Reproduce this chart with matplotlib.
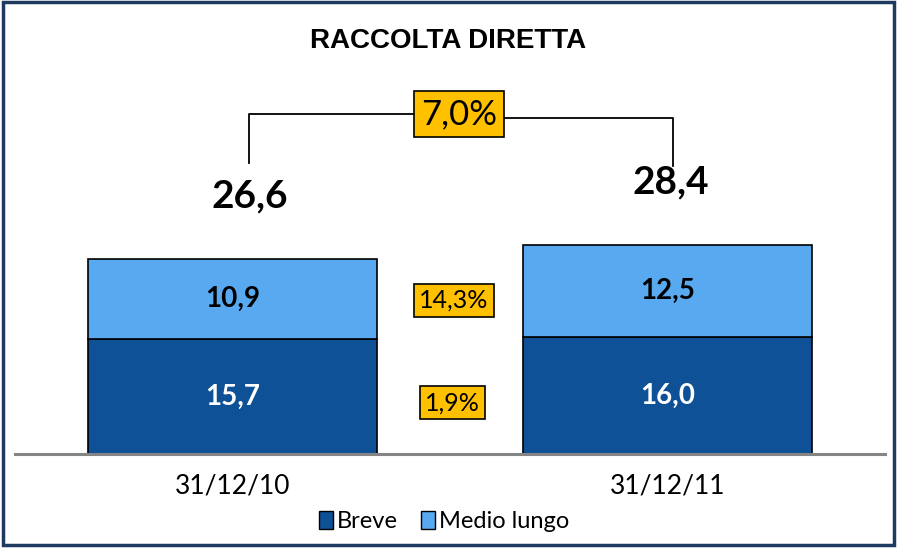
import matplotlib
matplotlib.use("Agg")
import matplotlib.pyplot as plt
from matplotlib.patches import Patch, Rectangle

plt.rcParams['font.family'] = ['Lato', 'DejaVu Sans']

# data
dates = ['31/12/10', '31/12/11']
breve = [15.7, 16.0]
medio_lungo = [10.9, 12.5]
totals = [26.6, 28.4]
breve_lbl = ['15,7', '16,0']
medio_lbl = ['10,9', '12,5']
total_lbl = ['26,6', '28,4']
var_total = '7,0%'
var_medio = '14,3%'
var_breve = '1,9%'

c_breve = '#0E5196'
c_medio = '#58A9F0'
c_gold = '#FFC000'

fig = plt.figure(figsize=(8.97, 5.48), dpi=100)
ax = fig.add_axes([15 / 897, 94 / 548, 870 / 897, 402.6 / 548])

x = [0, 1]
w = 0.665
ax.bar(x, breve, w, color=c_breve, edgecolor='black', linewidth=1.2)
ax.bar(x, medio_lungo, w, bottom=breve, color=c_medio, edgecolor='black', linewidth=1.2)

tot_dx = [0.04, 0.008]
for i in range(2):
    ax.text(x[i], breve[i] / 2, breve_lbl[i], ha='center', va='center',
            color='white', fontsize=20, fontweight='bold')
    ax.text(x[i], breve[i] + medio_lungo[i] / 2, medio_lbl[i], ha='center', va='center',
            color='black', fontsize=20, fontweight='bold')
    ax.text(x[i] + tot_dx[i], totals[i] + 8.7, total_lbl[i], ha='center', va='center',
            color='black', fontsize=28, fontweight='bold')

# bracket between totals
lx, rx, bx = 0.038, 1.013, 0.521
ax.plot([lx, lx, 0.42], [39.8, 46.4, 46.4], color='black', lw=1.3)
ax.plot([0.62, rx, rx], [45.9, 45.9, 39.3], color='black', lw=1.3)
box = dict(boxstyle='square,pad=0.2', fc=c_gold, ec='black', lw=1.2)
ax.text(bx, 46.4, var_total, ha='center', va='center', fontsize=25, bbox=box)
box2 = dict(boxstyle='square,pad=0.2', fc=c_gold, ec='black', lw=1.2)
ax.text(0.509, 21.0, var_medio, ha='center', va='center', fontsize=18, bbox=box2)
ax.text(0.505, 7.0, var_breve, ha='center', va='center', fontsize=18, bbox=box2)

ax.set_xlim(-0.5, 1.5)
ax.set_ylim(0, 55)
ax.set_xticks(x)
ax.set_xticklabels(dates, fontsize=19)
ax.tick_params(axis='x', length=0, pad=14)
ax.set_yticks([])
for s in ['top', 'left', 'right']:
    ax.spines[s].set_visible(False)
ax.spines['bottom'].set_color('#858585')
ax.spines['bottom'].set_linewidth(2.2)

fig.text(0.5, 1 - 41 / 548, 'RACCOLTA DIRETTA', ha='center', va='center',
         fontsize=20, fontweight='bold', family=['Liberation Sans', 'DejaVu Sans'])

handles = [Patch(facecolor=c_breve, edgecolor='black', label='Breve'),
           Patch(facecolor=c_medio, edgecolor='black', label='Medio lungo')]
fig.legend(handles=handles, loc='lower center', bbox_to_anchor=(0.495, 0.008),
           ncol=2, frameon=False, fontsize=17, handlelength=0.6, handleheight=0.8,
           handletextpad=0.15, columnspacing=1.0, borderpad=0.0)

fig.patches.append(Rectangle((3 / 897, 3 / 548), 891 / 897, 543 / 548,
                             transform=fig.transFigure, fill=False,
                             edgecolor='#1F3A5F', linewidth=2.5))

fig.savefig('out.png', dpi=100)
